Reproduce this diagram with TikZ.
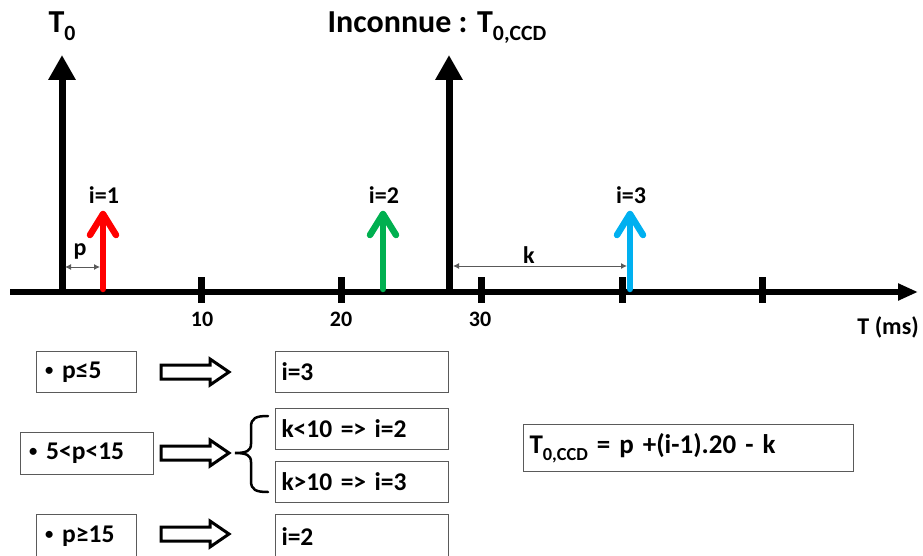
\documentclass[tikz,border=0pt]{standalone}
\usepackage{fontspec}
\setmainfont{Carlito}
\usetikzlibrary{arrows.meta}
\definecolor{cred}{RGB}{255,0,0}
\definecolor{cgreen}{RGB}{0,176,80}
\definecolor{cblue}{RGB}{0,176,240}
\definecolor{boxline}{RGB}{90,90,90}
\newcommand\lowsub[1]{\raisebox{-0.25em}{\scalebox{0.68}{#1}}}
\newcommand\smbullet{\hspace{0.1em}\raisebox{0.12em}{\scalebox{0.65}{•}}\hspace{0.35em}}
\begin{document}
\begin{tikzpicture}[x=1pt,y=-1pt,
  txt/.style={font=\bfseries\fontsize{#1}{#1}\selectfont, inner sep=0pt},
  bigarrow/.style={line width=7pt,-{Triangle[length=25pt,width=26pt]}},
  pulse/.style={line width=6.5pt, line cap=round, line join=round},
  dim/.style={draw=black!65, line width=1pt, {Latex[length=6pt,width=6pt]}-{Latex[length=6pt,width=6pt]}},
  box/.style={draw=boxline, line width=1pt, inner xsep=6pt, inner ysep=0pt, anchor=north west,
    align=left, font=\bfseries\fontsize{25.5}{25.5}\selectfont},
  hollow/.style={draw=black, line width=3pt, line join=miter, fill=white},
  tick/.style={line width=7pt}
]
\useasboundingbox (0,0) rectangle (923,556);
\clip (0,0) rectangle (923,556);

% axis
\coordinate (ax0) at (10,292);
\coordinate (ax1) at (918,292);
\draw[line width=6.5pt,-{Triangle[length=20pt,width=16pt]}] (ax0) -- (ax1);

% ticks
\foreach \x/\n in {201/t1,341/t2,481/t3,622/t4,762/t5}{
  \coordinate (\n a) at (\x,277);
  \coordinate (\n b) at (\x,303);
  \draw[tick] (\n a) -- (\n b);
}
\node[txt=22, anchor=base] (l10) at (202,326) {10};
\node[txt=22, anchor=base] (l20) at (341,326) {20};
\node[txt=22, anchor=base] (l30) at (480,326) {30};
\node[txt=24, anchor=base east] (lT) at (919,334) {T (ms)};

% big black arrows
\coordinate (A0) at (62,292);
\coordinate (A0t) at (62,55);
\draw[bigarrow] (A0) -- (A0t);
\coordinate (A1) at (449,292);
\coordinate (A1t) at (449,55);
\draw[bigarrow] (A1) -- (A1t);

% titles
\node[txt=32, anchor=base] (T0) at (62,33) {T\lowsub{0}};
\node[txt=32, anchor=base] (Tc) at (437,33) {Inconnue : T\lowsub{0,CCD}};

% colored pulses
\foreach \x/\c/\n in {103/cred/1,383/cgreen/2,630/cblue/3}{
  \draw[pulse,\c] (\x,289) -- (\x,214);
  \draw[pulse,\c] (\x-13,235) -- (\x,214) -- (\x+13,235);
  \node[txt=24, anchor=base] (i\n) at (\x+1,204) {i=\n};
}

% p and k
\coordinate (p0) at (65,267);
\coordinate (p1) at (100,267);
\draw[dim] (p0) -- (p1);
\node[txt=24, anchor=base] (plab) at (80,255) {p};
\coordinate (k0) at (453,266);
\coordinate (k1) at (627,266);
\draw[dim] (k0) -- (k1);
\node[txt=24, anchor=base] (klab) at (529,263) {k};

% condition boxes
\node[box, minimum width=100pt, minimum height=41pt, text width=88pt] (c1) at (36,351) {\smbullet p≤5};
\node[box, minimum width=133pt, minimum height=42pt, text width=121pt] (c2) at (20,432) {\smbullet 5<p<15};
\node[box, minimum width=100pt, minimum height=44pt, text width=88pt] (c3) at (36,514) {\smbullet p≥15};

\node[box, minimum width=173pt, minimum height=41pt, text width=161pt] (r1) at (275,351) {i=3};
\node[box, minimum width=173pt, minimum height=41pt, text width=161pt] (r2) at (275,408) {k<10 => i=2};
\node[box, minimum width=173pt, minimum height=41pt, text width=161pt] (r3) at (275,461) {k>10 => i=3};
\node[box, minimum width=173pt, minimum height=44pt, text width=161pt] (r4) at (275,514) {i=2};

\node[box, minimum width=330pt, minimum height=47pt, text width=318pt, font=\bfseries\fontsize{27}{27}\selectfont] (f) at (523,424) {T\lowsub{0,CCD} = p +(i-1).20 - k};

% hollow arrows
\foreach \y in {372,453,534}{
  \draw[hollow] (161,\y-7) -- (210,\y-7) -- (210,\y-13) -- (229,\y) -- (210,\y+13) -- (210,\y+7) -- (161,\y+7) -- cycle;
}

% brace
\draw[line width=2.5pt, line cap=round]
  (268,416) .. controls (256,416) and (251,418) .. (251,427) -- (251,444)
  .. controls (251,451) and (246,453) .. (235,453)
  .. controls (246,453) and (251,455) .. (251,462) -- (251,481)
  .. controls (251,490) and (256,492) .. (268,492);
\end{tikzpicture}
\end{document}
